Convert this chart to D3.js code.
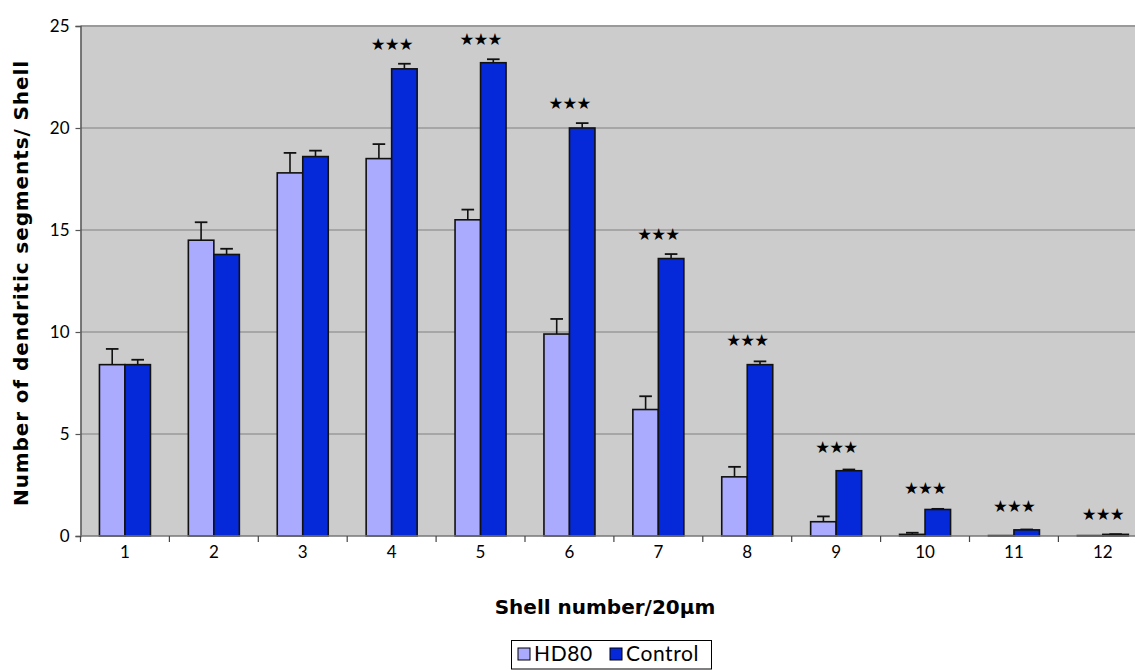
<!DOCTYPE html>
<html>
<head>
<meta charset="utf-8">
<script src="https://cdn.jsdelivr.net/npm/d3@7"></script>
<style>
  html, body { margin: 0; padding: 0; background: #ffffff; }
  svg { display: block; font-family: "Gill Sans", "Gill Sans MT", Lato, "DejaVu Sans", sans-serif; }
</style>
</head>
<body>
<svg id="chart" width="1135" height="670"></svg>
<script>
// Shell numbers (Sholl analysis, 20 µm shells)
const shells = ["1", "2", "3", "4", "5", "6", "7", "8", "9", "10", "11", "12"];
const seriesNames = ["HD80", "Control"];

// Mean number of dendritic segments per shell
const hd80Values    = [8.4, 14.5, 17.8, 18.5, 15.5, 9.9, 6.2, 2.9, 0.7, 0.08, 0.02, 0.02];
const controlValues = [8.4, 13.8, 18.6, 22.9, 23.2, 20.0, 13.6, 8.4, 3.2, 1.3, 0.3, 0.08];

// Standard errors (upper whisker only)
const hd80Errors    = [0.77, 0.88, 0.98, 0.71, 0.5, 0.74, 0.65, 0.49, 0.26, 0.08, 0, 0];
const controlErrors = [0.24, 0.28, 0.29, 0.25, 0.17, 0.24, 0.22, 0.16, 0.06, 0.03, 0.02, 0.01];

// Significance markers and the height (in data units) at which they sit
const starLabels  = ["", "", "", "★★★", "★★★", "★★★", "★★★", "★★★", "★★★", "★★★", "★★★", "★★★"];
const starHeights = [0, 0, 0, 24.13, 24.37, 21.22, 14.8, 9.62, 4.37, 2.37, 1.46, 1.06];

const yTicks = [0, 5, 10, 15, 20, 25];

const colors = { HD80: "#aaaaff", Control: "#0529d9" };

const titleFont = "\"Gill Sans\", \"DejaVu Sans\", sans-serif";

const svg = d3.select("#chart");

const plot = { left: 80.5, top: 26, width: 88.9 * 12, height: 510 };

const x = d3.scaleBand()
  .domain(shells)
  .range([plot.left, plot.left + plot.width])
  .paddingInner(0).paddingOuter(0);

const barW = 25.5;
const xs = d3.scaleBand()
  .domain(seriesNames)
  .range([x.bandwidth() / 2 - barW, x.bandwidth() / 2 + barW]);

const y = d3.scaleLinear()
  .domain([0, 25])
  .range([plot.top + plot.height, plot.top]);

// plot background
svg.append("rect")
  .attr("x", plot.left).attr("y", plot.top)
  .attr("width", plot.width).attr("height", plot.height)
  .attr("fill", "#cccccc");

// horizontal gridlines (including the top border at 25)
svg.append("g")
  .selectAll("line")
  .data(yTicks.filter(d => d > 0))
  .join("line")
  .attr("x1", plot.left).attr("x2", plot.left + plot.width)
  .attr("y1", d => y(d)).attr("y2", d => y(d))
  .attr("stroke", "#9a9a9a")
  .attr("stroke-width", d => d === 25 ? 2 : 1.3);

// bars
const rows = shells.map((s, i) => ({
  shell: s,
  items: [
    { name: "HD80", value: hd80Values[i], err: hd80Errors[i] },
    { name: "Control", value: controlValues[i], err: controlErrors[i] }
  ]
}));

const groups = svg.append("g")
  .selectAll("g")
  .data(rows)
  .join("g")
  .attr("transform", d => `translate(${x(d.shell)},0)`);

// error bars (drawn first so the bar outline covers the stem base)
groups.selectAll("g.err")
  .data(d => d.items.filter(it => it.err > 0))
  .join("g")
  .attr("class", "err")
  .each(function (d) {
    const g = d3.select(this);
    const cx = xs(d.name) + xs.bandwidth() / 2;
    g.append("line")
      .attr("x1", cx).attr("x2", cx)
      .attr("y1", y(d.value)).attr("y2", y(d.value + d.err))
      .attr("stroke", "#111").attr("stroke-width", 1.6);
    g.append("line")
      .attr("x1", cx - 6.3).attr("x2", cx + 6.3)
      .attr("y1", y(d.value + d.err)).attr("y2", y(d.value + d.err))
      .attr("stroke", "#111").attr("stroke-width", 1.8);
  });

groups.selectAll("rect")
  .data(d => d.items)
  .join("rect")
  .attr("x", d => xs(d.name))
  .attr("width", xs.bandwidth())
  .attr("y", d => y(d.value))
  .attr("height", d => y(0) - y(d.value))
  .attr("fill", d => colors[d.name])
  .attr("stroke", "#111")
  .attr("stroke-width", 1.6);

// significance stars
svg.append("g")
  .selectAll("text")
  .data(shells.map((s, i) => ({ shell: s, label: starLabels[i], h: starHeights[i] })).filter(d => d.label))
  .join("text")
  .attr("x", d => x(d.shell) + x.bandwidth() / 2)
  .attr("y", d => y(d.h))
  .attr("dy", "0.36em")
  .attr("text-anchor", "middle")
  .attr("font-family", "DejaVu Sans, sans-serif")
  .attr("font-size", 16.5)
  .attr("letter-spacing", "-0.8px")
  .attr("fill", "#000")
  .text(d => d.label);

// y axis
const yAxis = d3.axisLeft(y)
  .tickValues(yTicks)
  .tickSize(5)
  .tickPadding(6)
  .tickFormat(d3.format("d"));

const yg = svg.append("g")
  .attr("transform", `translate(${plot.left},0)`)
  .call(yAxis);
yg.select(".domain").attr("stroke", "#555").attr("stroke-width", 1.5);
yg.selectAll(".tick line").attr("stroke", "#555").attr("stroke-width", 1.2);
yg.selectAll(".tick text")
  .attr("font-size", 17)
  .attr("font-family", "\"Gill Sans\", Lato, sans-serif")
  .attr("fill", "#000");

// x axis: baseline with ticks at category boundaries, labels at centers
const xg = svg.append("g")
  .attr("transform", `translate(0,${y(0)})`);
xg.append("line")
  .attr("x1", plot.left).attr("x2", plot.left + plot.width)
  .attr("y1", 0).attr("y2", 0)
  .attr("stroke", "#777").attr("stroke-width", 1.6);
xg.selectAll("line.bound")
  .data(shells)
  .join("line")
  .attr("class", "bound")
  .attr("x1", d => x(d)).attr("x2", d => x(d))
  .attr("y1", 0).attr("y2", 6)
  .attr("stroke", "#444").attr("stroke-width", 1.2);
xg.selectAll("text")
  .data(shells)
  .join("text")
  .attr("x", d => x(d) + x.bandwidth() / 2)
  .attr("y", 22)
  .attr("text-anchor", "middle")
  .attr("font-size", 17)
  .attr("fill", "#000")
  .text(d => d);

// axis titles
svg.append("text")
  .attr("transform", `translate(28,${plot.top + plot.height / 2 + 2}) rotate(-90)`)
  .attr("text-anchor", "middle")
  .attr("font-family", titleFont)
  .attr("font-size", 20)
  .attr("letter-spacing", "0.9px")
  .attr("font-weight", "bold")
  .attr("fill", "#000")
  .text("Number of dendritic segments/ Shell");

svg.append("text")
  .attr("x", 605)
  .attr("y", 614)
  .attr("text-anchor", "middle")
  .attr("font-family", titleFont)
  .attr("font-size", 20)
  .attr("font-weight", "bold")
  .attr("fill", "#000")
  .text("Shell number/20μm");

// legend
const legend = svg.append("g");
legend.append("rect")
  .attr("x", 511.5).attr("y", 640.5)
  .attr("width", 200).attr("height", 28.5)
  .attr("fill", "#fff").attr("stroke", "#000").attr("stroke-width", 1);

const legendItems = [
  { name: "HD80", sx: 518, tx: 534 },
  { name: "Control", sx: 610, tx: 626 }
];
legend.selectAll("rect.sw")
  .data(legendItems)
  .join("rect")
  .attr("class", "sw")
  .attr("x", d => d.sx).attr("y", 648)
  .attr("width", 12).attr("height", 12)
  .attr("fill", d => colors[d.name])
  .attr("stroke", "#000").attr("stroke-width", 1);
legend.selectAll("text")
  .data(legendItems)
  .join("text")
  .attr("x", d => d.tx).attr("y", 661)
  .attr("font-size", 21)
  .attr("letter-spacing", "0.6px")
  .attr("fill", "#000")
  .text(d => d.name);
</script>
</body>
</html>
